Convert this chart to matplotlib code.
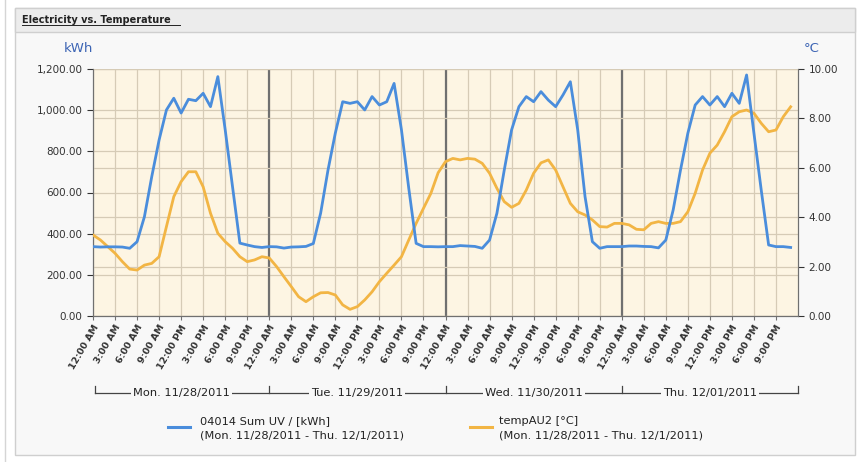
import numpy as np
import matplotlib; matplotlib.use("Agg")
import matplotlib.pyplot as plt
from matplotlib.patches import Rectangle
from matplotlib.lines import Line2D
from matplotlib.ticker import FuncFormatter, MultipleLocator

# ---- data (hourly) ----
days = ["Mon. 11/28/2011", "Tue. 11/29/2011", "Wed. 11/30/2011", "Thu. 12/01/2011"]
hour_labels = ["12:00 AM", "3:00 AM", "6:00 AM", "9:00 AM",
               "12:00 PM", "3:00 PM", "6:00 PM", "9:00 PM"]

kwh_mon = [337, 335, 336, 336, 335, 329, 361, 482, 677, 855, 1001, 1058,
           986, 1053, 1046, 1082, 1017, 1163, 905, 628, 354, 345, 337, 333]
kwh_tue = [337, 336, 330, 335, 336, 338, 352, 500, 709, 889, 1041, 1033,
           1041, 1001, 1066, 1025, 1041, 1130, 905, 620, 353, 337, 337, 336]
kwh_wed = [337, 337, 342, 340, 338, 329, 369, 499, 709, 904, 1017, 1066,
           1041, 1090, 1049, 1017, 1074, 1138, 905, 580, 361, 329, 337, 337]
kwh_thu = [337, 340, 340, 338, 337, 331, 369, 515, 709, 888, 1025, 1066,
           1025, 1066, 1017, 1082, 1033, 1171, 888, 610, 345, 337, 337, 333]

temp_mon = [3.28, 3.08, 2.81, 2.54, 2.20, 1.90, 1.86, 2.06, 2.13, 2.40, 3.62, 4.83,
            5.44, 5.84, 5.84, 5.23, 4.16, 3.35, 3.01, 2.74, 2.40, 2.20, 2.27, 2.40]
temp_tue = [2.35, 2.00, 1.59, 1.19, 0.78, 0.58, 0.78, 0.94, 0.95, 0.85, 0.45, 0.27,
            0.38, 0.65, 0.98, 1.39, 1.73, 2.06, 2.40, 3.08, 3.75, 4.36, 4.96, 5.80]
temp_wed = [6.25, 6.38, 6.32, 6.38, 6.35, 6.18, 5.78, 5.17, 4.63, 4.40, 4.56, 5.10,
            5.78, 6.20, 6.32, 5.91, 5.23, 4.56, 4.22, 4.09, 3.89, 3.62, 3.60, 3.75]
temp_thu = [3.75, 3.69, 3.51, 3.49, 3.75, 3.82, 3.75, 3.75, 3.82, 4.22, 4.97, 5.91,
            6.59, 6.92, 7.46, 8.07, 8.27, 8.34, 8.21, 7.80, 7.46, 7.53, 8.07, 8.47]

kwh = np.array(kwh_mon + kwh_tue + kwh_wed + kwh_thu, dtype=float)
temp = np.array(temp_mon + temp_tue + temp_wed + temp_thu)
hours = np.arange(len(kwh))

BLUE = "#4a8ddc"
ORANGE = "#f2b544"
GRID = "#d6cbb6"
TXT = "#333333"
PANEL = "#f8f8f8"

W, H = 863, 462
fig = plt.figure(figsize=(W / 100, H / 100), dpi=100)
fig.patch.set_facecolor("white")

def fx(px): return px / W
def fy(py): return 1 - py / H

# panel frame + title bar
fig.add_artist(Rectangle((fx(15), fy(455)), fx(840), (455 - 8) / H, transform=fig.transFigure,
                         facecolor=PANEL, edgecolor="#cfcfcf", lw=1, zorder=0))
fig.add_artist(Rectangle((fx(15), fy(32)), fx(840), (32 - 8) / H, transform=fig.transFigure,
                         facecolor="#ececec", edgecolor="#cfcfcf", lw=1, zorder=0))
fig.add_artist(Line2D([fx(5), fx(5)], [fy(0), fy(462)], transform=fig.transFigure,
                      color="#d5d5d5", lw=1))
fig.text(fx(22), fy(20), "Electricity vs. Temperature", fontsize=7, fontweight="bold",
         color="#222222", va="center", ha="left")
fig.add_artist(Line2D([fx(22), fx(180)], [fy(25), fy(25)], transform=fig.transFigure,
                      color="#222222", lw=0.7))

ax = fig.add_axes([fx(93), fy(316), fx(798) - fx(93), (316 - 69) / H])
ax2 = ax.twinx()
ax.set_facecolor("#fdf5e3")
ax.set_zorder(1); ax2.set_zorder(2); ax2.patch.set_visible(False)

ax.set_xlim(0, 96)
ax.set_ylim(0, 1200)
ax2.set_ylim(0, 10)

ax.xaxis.set_major_locator(MultipleLocator(3))
ax.yaxis.set_major_locator(MultipleLocator(200))
ax2.yaxis.set_major_locator(MultipleLocator(2))
ax.grid(True, color=GRID, lw=0.9)
ax2.grid(True, axis="y", color=GRID, lw=0.9)
ax2.set_axisbelow(True)
for d in (24, 48, 72):
    ax.axvline(d, color="#707070", lw=1.6, zorder=2)

# kWh drawn on the front axes, converted to its scale (1200 kWh == 10 °C)
ax2.plot(hours, kwh / 120.0, color=BLUE, lw=2.0, zorder=4)
ax2.plot(hours, temp, color=ORANGE, lw=2.0, zorder=3)

ax.yaxis.set_major_formatter(FuncFormatter(lambda v, p: f"{v:,.2f}"))
ax2.yaxis.set_major_formatter(FuncFormatter(lambda v, p: f"{v:.2f}"))
xt = np.arange(0, 96, 3)
ax.set_xticks(xt)
ax.set_xticklabels([hour_labels[(t % 24) // 3] for t in xt], rotation=60, ha="right",
                   rotation_mode="anchor", fontsize=6.8, color=TXT, fontweight="bold")
for a in (ax, ax2):
    a.tick_params(axis="y", labelsize=7.5, colors=TXT, length=4, width=0.8)
    for s in a.spines.values():
        s.set_color("#707070")
    a.spines["top"].set_visible(False)
ax.tick_params(axis="x", length=3, width=0.8, color="#707070", pad=2)

fig.text(fx(78), fy(49), "kWh", color="#3c64b4", fontsize=9.5, ha="center", va="center")
fig.text(fx(812), fy(49), "°C", color="#3c64b4", fontsize=9.5, ha="center", va="center")

# day bracket below the hour labels
yb, yt = fy(393), fy(386)
fig.add_artist(Line2D([fx(95), fx(798)], [yb, yb], transform=fig.transFigure,
                      color="#444444", lw=0.9))
for i in range(5):
    xp = ax.transData.transform((i * 24, 0))[0] / W
    if i == 0: xp = fx(95)
    fig.add_artist(Line2D([xp, xp], [yb, yt], transform=fig.transFigure, color="#444444", lw=0.9))
for i, name in enumerate(days):
    xc = ax.transData.transform((i * 24 + 12, 0))[0] / W
    fig.text(xc, yb, name, fontsize=8.2, color="#222222", ha="center", va="center",
             bbox=dict(facecolor=PANEL, edgecolor="none", pad=1.5))

# legend
for x0, col, name, tx in [(168, BLUE, "04014 Sum UV / [kWh]", 200),
                          (470, ORANGE, "tempAU2 [°C]", 499)]:
    fig.add_artist(Line2D([fx(x0), fx(x0 + 22)], [fy(427), fy(427)], transform=fig.transFigure,
                          color=col, lw=2.2))
    fig.text(fx(tx), fy(421), name, fontsize=8.2, color="#222222", va="center")
    fig.text(fx(tx), fy(435), "(Mon. 11/28/2011 - Thu. 12/1/2011)", fontsize=8.2,
             color="#222222", va="center")

fig.savefig("out.png", dpi=100)
